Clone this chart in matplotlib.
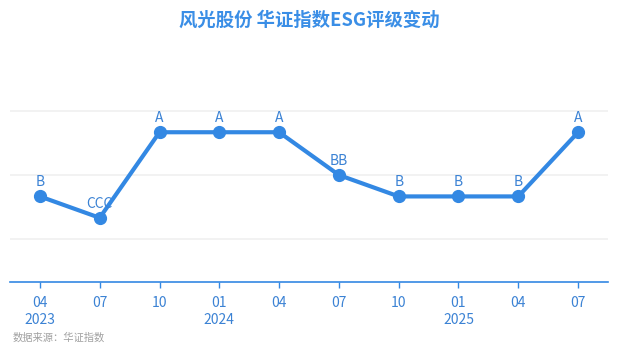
import matplotlib.pyplot as plt

plt.rcParams['font.family'] = ['Noto Sans CJK SC', 'DejaVu Sans']

# data
months = ["04", "07", "10", "01", "04", "07", "10", "01", "04", "07"]
years = ["2023", "", "", "2024", "", "", "", "2025", "", ""]
ratings = ["B", "CCC", "A", "A", "A", "BB", "B", "B", "B", "A"]

# rating scale, lowest to highest
scale = ["C", "CC", "CCC", "B", "BB", "BBB", "A", "AA", "AAA"]
level = {r: i - 1 for i, r in enumerate(scale)}

blue = "#3388e3"
text_blue = "#3b82d4"

fig = plt.figure(figsize=(6.18, 3.55), dpi=100)
ax = fig.add_axes([0.0162, 0.2056, 0.9676, 0.663])

x = list(range(len(ratings)))
y = [level[r] for r in ratings]

ax.plot(x, y, color=blue, linewidth=3, marker="o", markersize=8.5, zorder=3)

for xi, yi, r in zip(x, y, ratings):
    ax.annotate(r, (xi, yi), xytext=(0, 5), textcoords="offset points",
                ha="center", va="bottom", color=text_blue, fontsize=10)

ax.set_xlim(-0.5, len(x) - 0.5)
ax.set_ylim(-2, 9)
ax.set_yticks([0, 3, 6])
ax.yaxis.grid(True, color="#f0f0f0", linewidth=1.2)
ax.set_axisbelow(True)
ax.tick_params(axis="y", left=False, labelleft=False)

labels = [m + ("\n" + yr if yr else "") for m, yr in zip(months, years)]
ax.set_xticks(x)
ax.set_xticklabels(labels, color=text_blue, fontsize=10, linespacing=1.25, va="top")
ax.tick_params(axis="x", colors=blue, length=4, width=1, pad=6, labelcolor=text_blue)

for side in ["top", "right", "left"]:
    ax.spines[side].set_visible(False)
ax.spines["bottom"].set_color(blue)
ax.spines["bottom"].set_linewidth(1.2)

fig.text(0.5, 0.944, "风光股份 华证指数ESG评级变动", ha="center", va="center",
         fontsize=13.2, fontweight="bold", color="#3a8ee6")
fig.text(0.021, 0.05, "数据来源：华证指数", ha="left", va="center",
         fontsize=7.4, color="#a0a0a0")

fig.savefig("out.png", dpi=100)
